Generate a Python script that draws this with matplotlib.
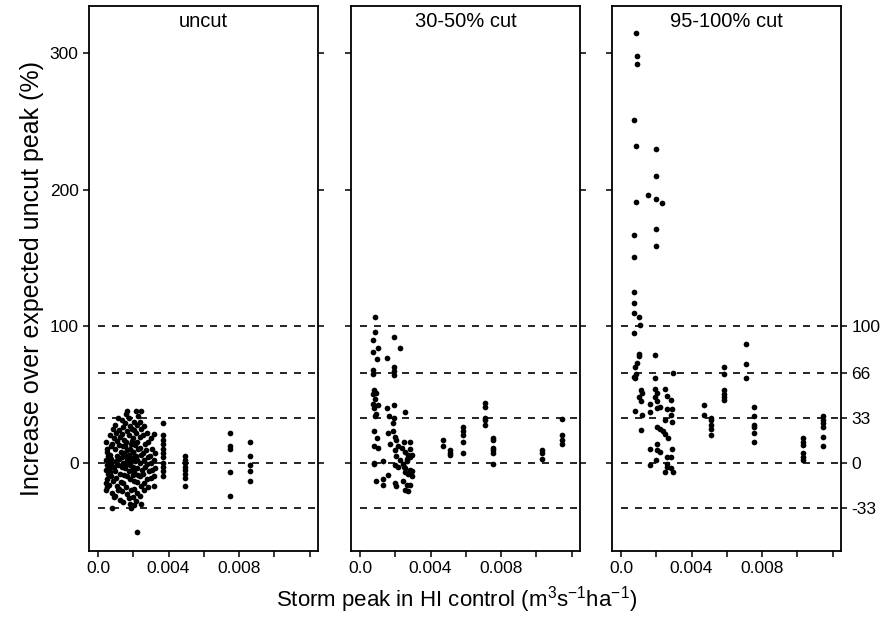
import matplotlib
matplotlib.use('Agg')
import matplotlib.pyplot as plt
import numpy as np

plt.rcParams['font.family'] = ['Liberation Sans', 'DejaVu Sans']
plt.rcParams['mathtext.fontset'] = 'custom'
plt.rcParams['mathtext.rm'] = 'Liberation Sans'
plt.rcParams['mathtext.it'] = 'Liberation Sans:italic'

# ── data (x in 1e-3 m3/s/ha, y in %) ──
panel_titles = ['uncut', '30-50% cut', '95-100% cut']

uncut_x = [0.45, 0.5, 0.55, 0.48, 0.52, 0.46, 0.55, 0.5, 0.47, 0.53, 0.58, 0.5, 0.44,
           0.68, 0.72, 0.66, 0.75, 0.7, 0.73, 0.65, 0.78, 0.71, 0.69,
           0.8, 0.85, 0.9, 0.82, 0.88, 0.84, 0.9,
           0.95, 1.02, 1.08, 0.98, 1.05, 1.0, 1.1, 0.96, 1.03, 1.07, 0.99, 1.12,
           1.15, 1.22, 1.25, 1.18, 1.28, 1.2, 1.16, 1.24, 1.3, 1.19, 1.23,
           1.38, 1.42, 1.35, 1.45, 1.4, 1.48, 1.36, 1.43, 1.39, 1.46, 1.41, 1.37, 1.44,
           1.62, 1.6, 1.55, 1.65, 1.58, 1.63, 1.57, 1.66, 1.61, 1.54, 1.64, 1.59, 1.67, 1.56,
           1.78, 1.82, 1.75, 1.85, 1.8, 1.77, 1.84, 1.79, 1.83, 1.76, 1.81, 1.86, 1.74, 1.8,
           1.9, 1.95, 1.92, 1.97, 1.9, 1.93, 1.96,
           2.02, 2.05, 1.98, 2.08, 2.0, 2.04, 2.1, 1.99, 2.06, 2.03, 2.07, 2.01, 2.05,
           2.18, 2.25, 2.2, 2.15, 2.22, 2.28, 2.17, 2.24, 2.2, 2.26, 2.19, 2.23, 2.16, 2.22,
           2.42, 2.38, 2.45, 2.4, 2.36, 2.44, 2.41, 2.47, 2.39, 2.43, 2.37, 2.46,
           2.6, 2.58, 2.65, 2.55, 2.62, 2.68, 2.57, 2.63, 2.6,
           2.78, 2.85, 2.75, 2.82, 2.8, 2.88, 2.77, 2.83,
           3.0, 3.05, 2.95, 3.02, 3.08, 2.98,
           3.2, 3.22, 3.18, 3.25, 3.2, 3.17,
           3.7, 3.7, 3.7, 3.7, 3.7, 3.7, 3.7, 3.7, 3.7, 3.7, 3.7,
           4.95, 4.95, 4.95, 4.95, 4.95, 4.95, 4.95, 4.95,
           7.5, 7.5, 7.5, 7.5, 7.5,
           8.6, 8.6, 8.6, 8.6, 8.6]
uncut_y = [15, 10, 5, 2, -2, -5, -8, -12, -15, -18, 0, 8, -20,
           20, 12, 6, 0, -4, -10, -16, -22, 3, -7,
           -33, 25, 18, 14, -3, -13, -25,
           28, 22, 16, 10, 5, 1, -1, -6, -11, -17, -24, -20,
           33, 24, 19, 13, 8, 3, -2, -8, -14, -19, -27,
           31, 26, 21, 17, 12, 7, 4, 0, -3, -9, -15, -21, -29,
           38, 36, 29, 23, 15, 9, 5, 2, -1, -4, -10, -18, -23, 12,
           33, 27, 20, 14, 10, 6, 3, 0, -2, -6, -12, -20, -26, -30,
           -33, 25, 16, 8, 1, -5, -9,
           30, 24, 18, 13, 8, 4, 1, -3, -7, -13, -19, -25, -31,
           38, 34, 28, 22, 15, 10, 5, 2, -4, -9, -14, -22, -28, -51,
           38, 30, 25, 19, 11, 6, 0, -5, -10, -17, -24, -30,
           27, 20, 14, 7, 2, -3, -8, -15, -20,
           22, 15, 9, 4, -1, -6, -12, -18,
           18, 10, 5, 0, -5, -11,
           21, 7, 2, -4, -10, -17,
           29, 20, 17, 14, 10, 7, 4, 0, -3, -6, -10,
           5, 2, 0, -3, -5, -8, -11, -17,
           22, 12, 10, -7, -24,
           15, 5, -2, -6, -13]

cut30_x = [0.85, 0.85, 0.72, 1.04, 0.72, 0.95, 1.95, 2.29, 1.53, 1.95, 1.95, 1.95, 0.72, 0.72,
           0.80, 0.90, 0.75, 0.85, 0.75, 1.00, 0.80, 0.90, 0.85,
           1.53, 1.95, 1.65, 1.95, 1.90, 2.55,
           0.78, 0.95, 0.78, 1.04, 0.78, 1.33, 0.78, 0.90, 1.30, 1.30, 1.61, 2.03, 2.00,
           1.61, 1.89, 1.99, 1.70, 2.02, 2.17, 1.99, 2.36, 2.02, 2.27, 1.99, 2.14, 2.46,
           2.51, 2.84, 2.55, 2.74, 2.93, 2.65, 2.84, 2.55, 2.74, 2.93, 2.46, 2.65, 2.84,
           2.55, 2.74, 2.55, 2.84, 2.65, 2.84, 2.51, 2.93,
           4.69, 4.69, 5.11, 5.11, 5.11, 5.84, 5.84, 5.84, 5.84, 5.84,
           7.09, 7.09, 7.09, 7.09, 7.09, 7.53, 7.53, 7.53, 7.53, 7.53, 7.53,
           10.34, 10.34, 10.34, 11.48, 11.48, 11.48, 11.48]
cut30_y = [107, 96, 90, 84, 81, 76, 92, 84, 77, 70, 67, 64, 68, 65,
           53, 51, 50, 47, 43, 42, 40, 36, 34,
           40, 42, 34, 33, 29, 37,
           23, 18, 12, 11, 0, 1, -1, -13, -12, -16, -9, -17, -15,
           22, 23, 19, 14, 17, 12, 9, 11, 5, 2, -2, -3, -1,
           15, 15, 8, 6, 6, 3, -5, -7, -8, -10, -13, -16, -16,
           -20, -21, -4, 4, 1, 10, -3, -6,
           17, 12, 9, 7, 6, 26, 23, 20, 15, 7,
           44, 41, 33, 31, 28, 18, 17, 11, 9, 7, -1,
           9, 7, 3, 32, 20, 17, 14]

cut95_x = [0.85, 0.89, 0.89, 0.74, 0.85, 1.99, 1.99, 1.55, 1.99, 2.31, 0.85, 1.97, 0.74, 1.97,
           0.74, 0.74, 0.74, 0.74, 1.04, 1.08, 0.74, 1.00, 1.04, 1.93, 0.90, 0.78, 0.74, 0.85,
           0.78, 1.93, 2.93,
           1.15, 1.20, 1.04, 1.15, 0.78, 1.20, 1.15,
           1.93, 2.02, 1.93, 2.02, 1.64, 2.02, 1.64, 2.21,
           2.50, 2.59, 2.84, 2.87, 2.59, 2.84, 2.87, 2.50, 2.02, 2.21, 2.40, 2.50, 2.68,
           2.02, 2.21, 1.99, 2.02, 1.65, 1.65, 2.59, 2.87, 2.84, 2.59, 2.59, 2.84, 2.50,
           2.93,
           4.71, 4.71, 5.11, 5.11, 5.11, 5.11, 5.11,
           5.84, 5.84, 5.84, 5.84, 5.84, 5.84,
           7.09, 7.09, 7.09,
           7.55, 7.55, 7.55, 7.55, 7.55, 7.55,
           10.34, 10.34, 10.34, 10.34, 10.34, 10.34,
           11.48, 11.48, 11.48, 11.48, 11.48, 11.48]
cut95_y = [315, 298, 292, 251, 232, 230, 210, 196, 193, 190, 191, 171, 167, 159,
           151, 125, 117, 110, 107, 101, 95, 80, 78, 79, 73, 70, 63, 65,
           62, 62, 66,
           53, 51, 48, 45, 38, 35, 24,
           54, 51, 48, 45, 43, 40, 37, 41,
           54, 49, 46, 39, 39, 35, 30, 31, 26, 25, 23, 21, 18,
           14, 8, 2, 9, -2, 10, 4, 10, 4, -1, -3, -4, -7,
           -7,
           42, 35, 33, 31, 28, 25, 20,
           70, 65, 53, 50, 48, 46,
           87, 72, 62,
           41, 34, 28, 26, 22, 15,
           18, 15, 13, 7, 4, 2,
           34, 31, 29, 26, 19, 12]

xs_all = [uncut_x, cut30_x, cut95_x]
ys_all = [uncut_y, cut30_y, cut95_y]

ref_levels = [-33, 0, 33, 66, 100]
y_ticks = [0, 100, 200, 300]
x_ticks = [0.0, 0.002, 0.004, 0.006, 0.008, 0.010, 0.012]
x_ticklabels = ['0.0', '', '0.004', '', '0.008', '', '']

# ── figure ──
W, H = 883, 624
fig = plt.figure(figsize=(W / 100, H / 100), dpi=100)
lefts = [89, 351, 612]
pw = 229
bottom_px, top_px = 550.7, 5.7

axes = []
for i in range(3):
    ax = fig.add_axes([lefts[i] / W, 1 - bottom_px / H, pw / W, (bottom_px - top_px) / H])
    axes.append(ax)
    xs = np.array(xs_all[i]) / 1000.0
    ax.plot(xs, ys_all[i], 'o', color='black', markersize=4.1, markeredgewidth=0)
    ax.hlines(ref_levels, 0.0, 0.0125, colors='black', linewidth=1.2,
              linestyles=(0, (4.2, 4.2)))
    ax.set_xlim(-0.00051, 0.01248)
    ax.set_ylim(-64.4, 334.7)
    for s in ax.spines.values():
        s.set_linewidth(1.3)
    ax.set_xticks(x_ticks)
    ax.set_xticklabels(x_ticklabels, fontsize=12.5)
    ax.set_yticks(y_ticks)
    ax.tick_params(direction='out', length=4.5, width=1.1, pad=3)
    ax.tick_params(axis='y', left=True, right=(i < 2), labelleft=(i == 0),
                   labelsize=12.5)
    ax.text(0.5, 0.988, panel_titles[i], transform=ax.transAxes,
            ha='center', va='top', fontsize=14.5)

# right axis on last panel with reference levels
sec = axes[2].secondary_yaxis('right')
sec.set_yticks(ref_levels)
sec.set_yticklabels([str(v) for v in ref_levels])
sec.tick_params(direction='out', length=4.5, width=1.1, labelsize=12.5, pad=3)
sec.spines['right'].set_visible(False)

axes[0].set_ylabel('Increase over expected uncut peak (%)', fontsize=18, labelpad=4)
fig.text(457 / W, 1 - 600 / H,
         'Storm peak in HI control (m$^{3}$s$^{-1}$ha$^{-1}$)',
         ha='center', va='center', fontsize=16)

fig.savefig('out.png', dpi=100, facecolor='white')
